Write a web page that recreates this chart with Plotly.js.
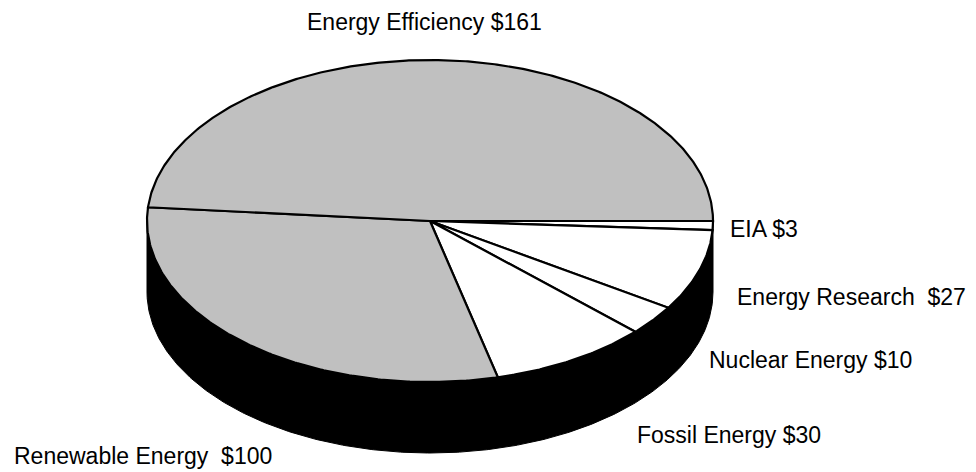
<!DOCTYPE html>
<html>
<head>
<meta charset="utf-8">
<script src="https://cdn.plot.ly/plotly-3.0.1.min.js"></script>
<style>html,body{margin:0;padding:0;background:#fff;}#chart{width:976px;height:472px;}</style>
</head>
<body>
<div id="chart"></div>
<script>
// ---- data ----
const categories = ['EIA', 'Energy Research', 'Nuclear Energy', 'Fossil Energy', 'Renewable Energy', 'Energy Efficiency'];
const values = [3, 27, 10, 30, 100, 161];
const sliceLabels = ['EIA $3', 'Energy Research\u00a0 $27', 'Nuclear Energy $10', 'Fossil Energy $30', 'Renewable Energy\u00a0 $100', 'Energy Efficiency $161'];

// ---- styles / geometry ----
const fills = {
  'EIA': '#ffffff', 'Energy Research': '#ffffff', 'Nuclear Energy': '#ffffff',
  'Fossil Energy': '#ffffff', 'Renewable Energy': '#c0c0c0', 'Energy Efficiency': '#c0c0c0'
};
const geo = { cx: 430, cy: 221, rx: 283, ry: 161, depth: 71, start: 0 };
const labelPos = {
  'EIA': { x: 728, y: 229, anchor: 'left' },
  'Energy Research': { x: 735, y: 297, anchor: 'left' },
  'Nuclear Energy': { x: 707, y: 360, anchor: 'left' },
  'Fossil Energy': { x: 635, y: 435, anchor: 'left' },
  'Renewable Energy': { x: 12, y: 456, anchor: 'left' },
  'Energy Efficiency': { x: 424, y: 22, anchor: 'center' }
};

function arc(a0, a1, dy) {
  const pts = { x: [], y: [] };
  const n = Math.max(2, Math.ceil(Math.abs(a1 - a0) / 0.5));
  for (let i = 0; i <= n; i++) {
    const a = (a0 + (a1 - a0) * i / n) * Math.PI / 180;
    pts.x.push(geo.cx + geo.rx * Math.cos(a));
    pts.y.push(geo.cy - geo.ry * Math.sin(a) + dy);
  }
  return pts;
}

const traces = [];
// side wall (front half)
const wallTop = arc(180, 360, 0);
const wallBot = arc(360, 180, geo.depth);
traces.push({
  type: 'scatter', mode: 'lines', fill: 'toself', fillcolor: '#000000',
  x: wallTop.x.concat(wallBot.x, [wallTop.x[0]]), y: wallTop.y.concat(wallBot.y, [wallTop.y[0]]),
  line: { color: '#000000', width: 1 }, hoverinfo: 'skip'
});

const total = values.reduce((a, b) => a + b, 0);
let ang = geo.start;
const annotations = [];
categories.forEach((c, i) => {
  const span = values[i] / total * 360;
  const a0 = ang, a1 = ang - span; // clockwise
  const p = arc(a0, a1, 0);
  traces.push({
    type: 'scatter', mode: 'lines', fill: 'toself', fillcolor: fills[c],
    x: [geo.cx].concat(p.x, [geo.cx]), y: [geo.cy].concat(p.y, [geo.cy]),
    line: { color: '#000000', width: 2.2 }, hoverinfo: 'skip'
  });
  ang = a1;
  const lp = labelPos[c];
  annotations.push({
    x: lp.x, y: lp.y, xref: 'x', yref: 'y', text: sliceLabels[i], showarrow: false,
    xanchor: lp.anchor, yanchor: 'middle',
    font: { family: 'Liberation Sans, Arial, sans-serif', size: 23, color: '#000000' }
  });
});

const layout = {
  width: 976, height: 472,
  margin: { l: 0, r: 0, t: 0, b: 0 },
  paper_bgcolor: '#ffffff', plot_bgcolor: '#ffffff',
  showlegend: false,
  xaxis: { range: [0, 976], visible: false, fixedrange: true },
  yaxis: { range: [472, 0], visible: false, fixedrange: true },
  annotations: annotations
};
Plotly.newPlot('chart', traces, layout, { staticPlot: true, displayModeBar: false });
</script>
</body>
</html>
